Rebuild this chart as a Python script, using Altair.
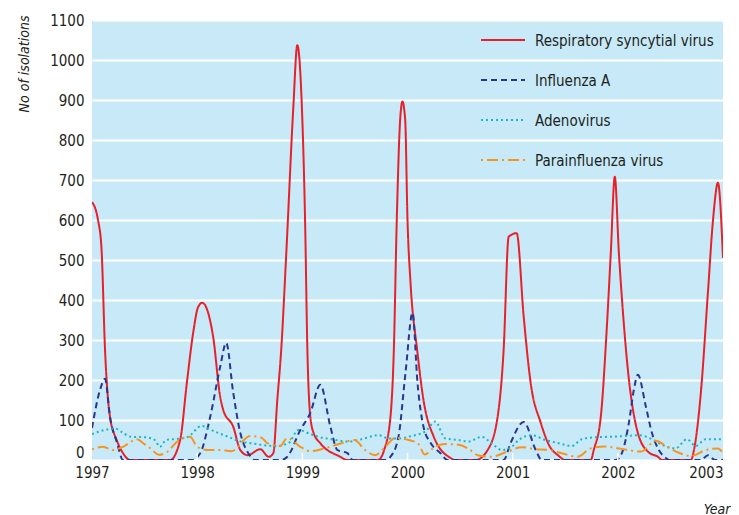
import altair as alt
import pandas as pd

FONT = "DejaVu Sans Condensed, Liberation Sans Narrow, sans-serif"
TEXT_COLOR = "#231f20"

SERIES = ["Respiratory syncytial virus", "Influenza A", "Adenovirus", "Parainfluenza virus"]
COLORS = ["#e8202a", "#2b3590", "#1db4c6", "#f7941d"]
DASHES = [[1, 0], [6, 4], [2, 3], [2, 4, 11, 4]]

BASE_YEAR = 1997
YEAR_TICKS = [1997, 1998, 1999, 2000, 2001, 2002, 2003]
COUNT_TICKS = list(range(0, 1101, 100))

# years since start of 1997, number of isolations
RSV_T = [0.000, 0.057, 0.090, 0.124, 0.171, 0.235, 0.300, 0.362, 0.743, 0.838,
         0.902, 0.962, 1.010, 1.048, 1.152, 1.219, 1.248, 1.343, 1.410, 1.480,
         1.600, 1.680, 1.724, 1.762, 1.799, 1.848, 1.914, 1.952, 1.993, 2.026,
         2.048, 2.076, 2.108, 2.171, 2.362, 2.425, 2.719, 2.778, 2.838, 2.870,
         2.898, 2.930, 2.952, 2.978, 3.000, 3.029, 3.092, 3.152, 3.250, 3.410,
         3.450, 3.648, 3.762, 3.857, 3.914, 3.962, 4.038, 4.105, 4.171, 4.267,
         4.350, 4.430, 4.500, 4.743, 4.771, 4.838, 4.895, 4.933, 4.971, 5.010,
         5.040, 5.090, 5.190, 5.290, 5.381, 5.420, 5.695, 5.724, 5.790, 5.857,
         5.905, 5.952, 6.000]
RSV_V = [645, 600, 530, 275, 108, 50, 15, 0, 0, 50,
         193, 318, 383, 393, 308, 158, 125, 83, 25, 12,
         27, 8, 17, 150, 275, 520, 880, 1037, 900, 600,
         275, 108, 67, 42, 8, 0, 0, 25, 108, 275,
         600, 850, 896, 850, 600, 442, 275, 150, 58, 5,
         0, 0, 25, 108, 275, 558, 567, 358, 193, 93,
         35, 12, 0, 0, 25, 108, 330, 517, 708, 517,
         400, 240, 68, 20, 8, 0, 0, 25, 170, 420,
         600, 693, 505]

FLU_T = [0.000, 0.076, 0.124, 0.171, 0.238, 0.295, 0.950, 1.029, 1.124, 1.219,
         1.276, 1.343, 1.410, 1.486, 1.550, 1.800, 1.857, 1.981, 2.076, 2.171,
         2.267, 2.333, 2.429, 2.480, 2.790, 2.838, 2.914, 2.981, 3.048, 3.095,
         3.152, 3.219, 3.314, 3.380, 3.914, 3.981, 4.105, 4.219, 4.276, 4.981,
         5.038, 5.105, 5.152, 5.190, 5.267, 5.324, 5.390, 5.457, 5.490, 5.790,
         5.857, 5.924, 6.000]
FLU_V = [80, 175, 203, 108, 43, 0, 0, 17, 108, 233,
         293, 168, 68, 17, 0, 0, 8, 75, 118, 188,
         83, 25, 17, 0, 0, 8, 58, 218, 368, 193,
         83, 43, 17, 0, 0, 43, 95, 25, 0, 0,
         17, 93, 175, 213, 133, 68, 25, 5, 0, 0,
         12, 0, 0]

ADENO_T = [0.000, 0.121, 0.216, 0.276, 0.371, 0.505, 0.597, 0.645, 0.705, 0.819,
           0.914, 1.038, 1.169, 1.295, 1.419, 1.514, 1.610, 1.740, 1.867, 1.962,
           2.057, 2.152, 2.276, 2.438, 2.562, 2.724, 2.819, 2.914, 3.038, 3.169,
           3.264, 3.359, 3.486, 3.581, 3.705, 3.800, 3.895, 3.990, 4.057, 4.181,
           4.311, 4.438, 4.562, 4.657, 4.788, 4.914, 5.073, 5.200, 5.324, 5.419,
           5.549, 5.657, 5.740, 5.835, 6.000]
ADENO_V = [65, 75, 79, 71, 58, 57, 50, 33, 50, 53,
           58, 85, 71, 58, 46, 42, 38, 35, 42, 75,
           67, 58, 52, 46, 52, 62, 54, 54, 60, 71,
           96, 54, 50, 46, 58, 42, 25, 33, 50, 62,
           50, 42, 35, 52, 57, 58, 60, 62, 52, 38,
           29, 52, 35, 52, 52]

PARA_T = [0.000, 0.105, 0.200, 0.295, 0.429, 0.486, 0.552, 0.638, 0.714, 0.810,
          0.933, 1.000, 1.095, 1.219, 1.324, 1.505, 1.610, 1.667, 1.790, 1.857,
          1.981, 2.076, 2.210, 2.371, 2.495, 2.597, 2.692, 2.788, 2.883, 3.010,
          3.105, 3.162, 3.264, 3.359, 3.486, 3.581, 3.667, 3.790, 3.950, 4.086,
          4.216, 4.343, 4.467, 4.616, 4.743, 4.876, 5.029, 5.219, 5.362, 5.457,
          5.581, 5.695, 5.838, 5.952, 6.000]
PARA_V = [27, 33, 25, 33, 52, 42, 30, 13, 20, 46,
          58, 33, 25, 25, 22, 60, 56, 42, 35, 55,
          33, 22, 29, 42, 50, 25, 12, 33, 55, 50,
          40, 14, 33, 40, 38, 28, 12, 8, 21, 32,
          27, 25, 17, 8, 29, 34, 28, 21, 48, 35,
          18, 10, 25, 29, 17]

rows = []
for name, ts, vs in zip(SERIES, [RSV_T, FLU_T, ADENO_T, PARA_T], [RSV_V, FLU_V, ADENO_V, PARA_V]):
    for i, (t, v) in enumerate(zip(ts, vs)):
        rows.append({"series": name, "year": BASE_YEAR + t, "count": v, "order": i})
df = pd.DataFrame(rows)
legend_df = pd.DataFrame({"series": SERIES, "rank": list(range(len(SERIES)))})
ticks_df = pd.DataFrame({"year": YEAR_TICKS[1:-1]})

color_scale = alt.Scale(domain=SERIES, range=COLORS)
dash_scale = alt.Scale(domain=SERIES, range=DASHES)
x_scale = alt.Scale(domain=[YEAR_TICKS[0], YEAR_TICKS[-1]], nice=False, zero=False)
y_scale = alt.Scale(domain=[0, 1100], nice=False)

x_axis = alt.Axis(values=YEAR_TICKS, format="d", grid=False, domain=False, ticks=False,
                  labelFont=FONT, labelFontSize=15, labelColor=TEXT_COLOR, labelPadding=5,
                  labelFlush=False,
                  labelAlign={"condition": {"test": "datum.value === 2003", "value": "right"},
                              "value": "center"},
                  title="Year", titleFont=FONT, titleFontSize=14,
                  titleFontStyle="italic", titleFontWeight="normal", titleColor=TEXT_COLOR,
                  titleAnchor="end", titleAlign="right", titleBaseline="top",
                  titleX=638, titleY=42)
y_axis = alt.Axis(values=COUNT_TICKS, format="d", grid=True, gridColor="white", gridWidth=2,
                  domain=False, ticks=False, labelFont=FONT, labelFontSize=15,
                  labelColor=TEXT_COLOR, labelPadding=8, labelOverlap=False,
                  labelBaseline={"condition": {"test": "datum.value === 0", "value": "bottom"},
                                 "value": "middle"},
                  title="No of isolations", titleFont=FONT, titleFontSize=14,
                  titleFontStyle="italic", titleFontWeight="normal", titleColor=TEXT_COLOR,
                  titleAngle=270, titleAlign="right", titleBaseline="alphabetic",
                  titleX=-64, titleY=-5)

lines = alt.Chart(df).mark_line(strokeWidth=2, interpolate="monotone", clip=True).encode(
    x=alt.X("year:Q", scale=x_scale, axis=x_axis),
    y=alt.Y("count:Q", scale=y_scale, axis=y_axis),
    color=alt.Color("series:N", scale=color_scale, legend=None, sort=SERIES),
    strokeDash=alt.StrokeDash("series:N", scale=dash_scale, legend=None, sort=SERIES),
    detail="series:N",
    order="order:Q",
)

tick_marks = alt.Chart(ticks_df).mark_rule(color="white", strokeWidth=1.5).encode(
    x=alt.X("year:Q", scale=x_scale, axis=x_axis),
    y=alt.value(433),
    y2=alt.value(440),
)

leg_base = alt.Chart(legend_df).transform_calculate(ly="1050 - 100 * datum.rank")
leg_sym = leg_base.mark_rule(strokeWidth=2).encode(
    x=alt.value(389), x2=alt.value(433),
    y=alt.Y("ly:Q", scale=y_scale, axis=y_axis),
    color=alt.Color("series:N", scale=color_scale, legend=None),
    strokeDash=alt.StrokeDash("series:N", scale=dash_scale, legend=None),
)
leg_txt = leg_base.mark_text(align="left", baseline="middle", font=FONT, fontSize=15,
                             color=TEXT_COLOR, dy=1).encode(
    x=alt.value(443),
    y=alt.Y("ly:Q", scale=y_scale, axis=y_axis),
    text="series:N",
)

chart = alt.layer(lines, tick_marks, leg_sym, leg_txt).properties(
    width=631, height=440,
    autosize=alt.AutoSizeParams(type="none"),
    padding={"left": 84, "top": 12, "right": 8, "bottom": 58},
).configure_view(fill="#c8eaf8", stroke=None)

chart.save("out.html", embed_options={"renderer": "svg", "actions": False})
